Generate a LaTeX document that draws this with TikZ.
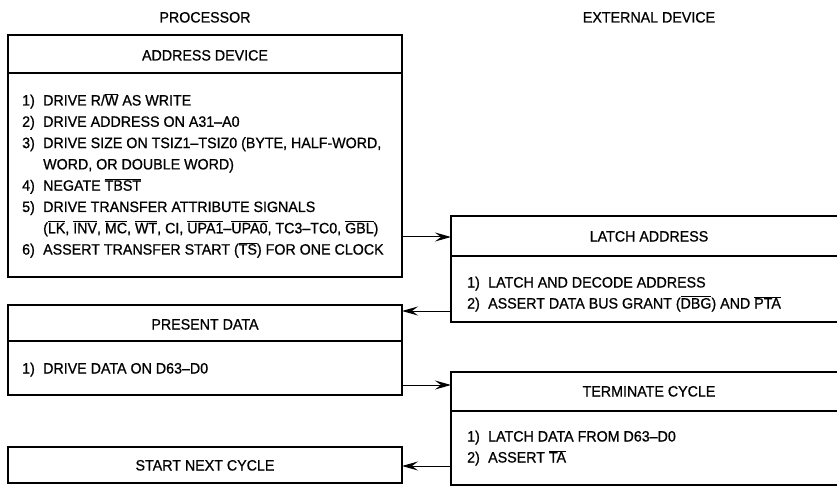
\documentclass[tikz,border=0pt]{standalone}
\usepackage{fontspec}
\setmainfont[FakeStretch=0.95,FakeBold=0.8]{Liberation Sans}
\usetikzlibrary{arrows.meta}
\newcommand\ovl[1]{\ensuremath{\overline{\mbox{#1}}}}
\newcommand\itm[1]{\makebox[21pt][l]{#1}}
\begin{document}
\begin{tikzpicture}[x=1pt,y=-1pt,
  box/.style={draw, line width=1.6pt, rectangle, inner sep=0pt, outer sep=0pt},
  sep/.style={line width=1.6pt},
  arr/.style={line width=1pt, -{Stealth[length=16pt,width=9pt,inset=6pt]}},
  txt/.style={font=\fontsize{15}{18}\selectfont, inner sep=0pt, anchor=base west},
  hd/.style={font=\fontsize{15}{18}\selectfont, inner sep=0pt, anchor=base}]
\useasboundingbox (0,0) rectangle (837,486);
% boxes
\node[box, minimum width=394pt, minimum height=242pt] (addr) at (205,156) {};
\node[box, minimum width=394pt, minimum height=90pt] (pres) at (205,350) {};
\node[box, minimum width=394pt, minimum height=36pt] (next) at (205,465) {};
\node[box, minimum width=449pt, minimum height=106pt] (latch) at (675.5,269) {};
\node[box, minimum width=449pt, minimum height=113pt] (term) at (675.5,428.5) {};
% dividers
\draw[sep] (addr.west |- 0,73) -- (addr.east |- 0,73);
\draw[sep] (pres.west |- 0,341) -- (pres.east |- 0,341);
\draw[sep] (latch.west |- 0,256) -- (latch.east |- 0,256);
\draw[sep] (term.west |- 0,411) -- (term.east |- 0,411);
% arrows
\draw[arr] (addr.east |- 0,237) -- (latch.west |- 0,237);
\draw[arr] (latch.west |- 0,311) -- (pres.east |- 0,311);
\draw[arr] (pres.east |- 0,385) -- (term.west |- 0,385);
\draw[arr] (term.west |- 0,466) -- (next.east |- 0,466);
% column titles
\node[hd] (tproc) at (205,22.5) {PROCESSOR};
\node[hd] (text) at (649,22.5) {EXTERNAL DEVICE};
% headers
\node[hd] (haddr) at (205,60.5) {ADDRESS DEVICE};
\node[hd] (hlatch) at (649,241.5) {LATCH ADDRESS};
\node[hd] (hpres) at (205,329.5) {PRESENT DATA};
\node[hd] (hterm) at (649,396.5) {TERMINATE CYCLE};
\node[hd] (hnext) at (205,470.5) {START NEXT CYCLE};
% address body
\node[txt] (a1) at (22,105.5) {\itm{1)}DRIVE R/\ovl{W} AS WRITE};
\node[txt] (a2) at (22,126.8) {\itm{2)}DRIVE ADDRESS ON A31--A0};
\node[txt] (a3) at (22,148.1) {\itm{3)}DRIVE SIZE ON TSIZ1--TSIZ0 (BYTE, HALF-WORD,};
\node[txt] (a3b) at (22,169.4) {\itm{}WORD, OR DOUBLE WORD)};
\node[txt] (a4) at (22,190.7) {\itm{4)}NEGATE \ovl{TBST}};
\node[txt] (a5) at (22,212) {\itm{5)}DRIVE TRANSFER ATTRIBUTE SIGNALS};
\node[txt] (a5b) at (22,233.3) {\itm{}(\ovl{LK}, \ovl{INV}, \ovl{MC}, \ovl{WT}, CI, \ovl{UPA1}--\ovl{UPA0}, TC3--TC0, \ovl{GBL})};
\node[txt] (a6) at (22,254.6) {\itm{6)}ASSERT TRANSFER START (\ovl{TS}) FOR ONE CLOCK};
% latch body
\node[txt] (l1) at (467,287.5) {\itm{1)}LATCH AND DECODE ADDRESS};
\node[txt] (l2) at (467,308.5) {\itm{2)}ASSERT DATA BUS GRANT (\ovl{DBG}) AND \ovl{PTA}};
% present body
\node[txt] (p1) at (22,373.5) {\itm{1)}DRIVE DATA ON D63--D0};
% terminate body
\node[txt] (t1) at (467,441.5) {\itm{1)}LATCH DATA FROM D63--D0};
\node[txt] (t2) at (467,462.5) {\itm{2)}ASSERT \ovl{TA}};
\end{tikzpicture}
\end{document}
